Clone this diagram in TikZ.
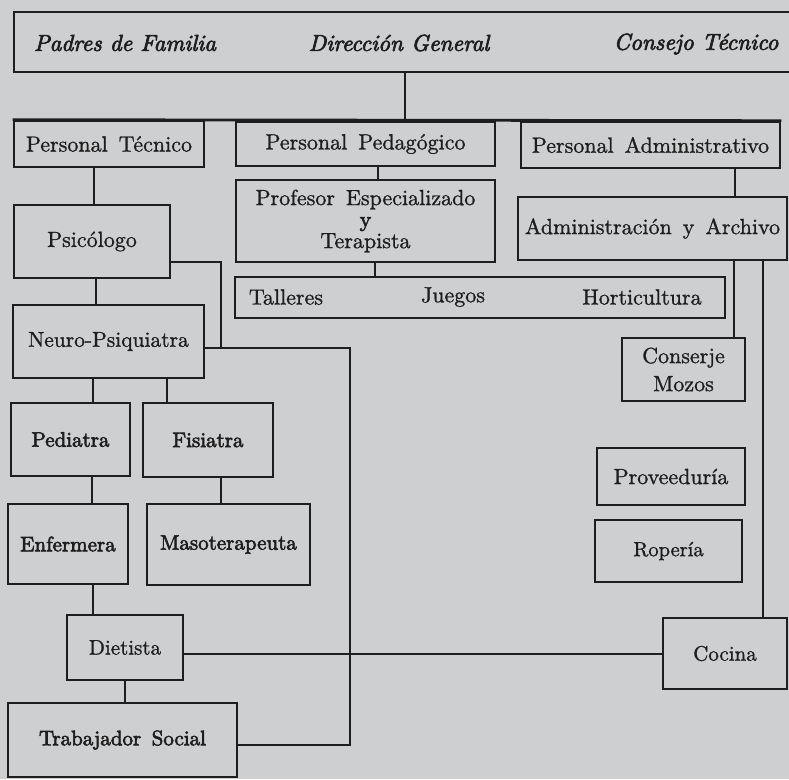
\documentclass[tikz,border=0pt]{standalone}
\usepackage{fontspec}
\newfontfamily\medfont{lmroman10-regular.otf}[FakeBold=1.1]
\newfontfamily\heavyfont{lmroman10-regular.otf}[FakeBold=2.8]
\newfontfamily\topitfont{lmroman10-italic.otf}[FakeBold=3]
\definecolor{paper}{RGB}{206,207,209}
\definecolor{ink}{RGB}{30,30,30}
\begin{document}
\begin{tikzpicture}[x=1pt,y=-1pt,
  box/.style={draw=ink, line width=2.6pt, inner sep=0pt, align=center, text=ink,
    font=\medfont\fontsize{22}{26}\selectfont},
  boldbox/.style={box, font=\heavyfont\fontsize{21}{24}\selectfont},
  toptxt/.style={text=ink, inner sep=0pt, font=\topitfont\fontsize{23}{25}\selectfont},
  plain/.style={text=ink, inner sep=0pt, font=\medfont\fontsize{22}{26}\selectfont},
  wire/.style={draw=ink, line width=2.8pt},
  thinwire/.style={draw=ink, line width=1.8pt}]
\fill[paper] (0,0) rectangle (789,779);
\useasboundingbox (0,0) rectangle (789,779);

% top box
\node[box, minimum width=780pt, minimum height=60pt] (top) at (404,42) {};
\node[toptxt] (t1) at (125,43) {Padres de Familia};
\node[toptxt] (t2) at (399,43) {Dirección General};
\node[toptxt] (t3) at (696,44) {Consejo Técnico};

% second row
\node[box, minimum width=190pt, minimum height=46pt] (tec) at (109,144) {Personal\, Técnico};
\node[box, minimum width=259pt, minimum height=44pt] (ped) at (365.5,144) {Personal\, Pedagógico};
\node[box, minimum width=259pt, minimum height=46pt] (adm) at (650.5,145) {Personal\, Administrativo};
\coordinate (bus) at (405,122);
\draw[wire] (bus |- top.south) -- (bus);
\draw[wire] (tec.north west) -- (adm.north east);

% pedagogic branch
\node[box, minimum width=259pt, minimum height=82pt, font=\medfont\fontsize{22}{21.5}\selectfont] (prof) at (365.5,221)
  {Profesor\, Especializado\\ {\heavyfont y}\\ Terapista};
\node[box, minimum width=490pt, minimum height=41pt] (tal) at (480,297.5) {};
\node[plain] (ta1) at (286,297) {Talleres};
\node[plain] (ta2) at (453,297) {Juegos};
\node[plain] (ta3) at (642,297) {Horticultura};

% administrative branch
\node[box, minimum width=269pt, minimum height=63pt] (arch) at (652.5,228.5) {Administración\, y\, Archivo};
\node[box, minimum width=123pt, minimum height=63pt, font=\medfont\fontsize{22}{28}\selectfont] (con) at (683.5,369.5) {Conserje\\ Mozos};
\node[box, minimum width=148pt, minimum height=57pt] (prov) at (671,476.5) {Proveeduría};
\node[box, minimum width=147pt, minimum height=62pt, font=\medfont\fontsize{20.5}{24}\selectfont] (rop) at (668.5,551) {Ropería};
\node[box, minimum width=124pt, minimum height=71pt, font=\medfont\fontsize{21}{24}\selectfont] (coc) at (725,653.5) {Cocina};

% technical branch
\node[box, minimum width=156pt, minimum height=73pt] (psi) at (92,241.5) {Psicólogo};
\node[box, minimum width=191pt, minimum height=73pt, font=\medfont\fontsize{21.5}{24}\selectfont] (neu) at (108.5,341.5) {Neuro-Psiquiatra};
\node[boldbox, minimum width=119pt, minimum height=73pt] (pedia) at (70.5,439.5) {Pediatra};
\node[boldbox, minimum width=130pt, minimum height=74pt] (fis) at (208,440) {Fisiatra};
\node[boldbox, minimum width=120pt, minimum height=80pt] (enf) at (68,544) {Enfermera};
\node[boldbox, minimum width=163pt, minimum height=81pt] (maso) at (228.5,544.5) {Masoterapeuta};
\node[box, minimum width=116pt, minimum height=65pt, font=\medfont\fontsize{21}{24}\selectfont] (die) at (125,647.5) {Dietista};
\node[boldbox, minimum width=229pt, minimum height=74pt] (tra) at (122.5,740) {Trabajador\, Social};

% connectors
\draw[wire] (94,0 |- tec.south) -- (94,0 |- psi.north);
\draw[wire] (378,0 |- ped.south) -- (378,0 |- prof.north);
\draw[wire] (735,0 |- adm.south) -- (735,0 |- arch.north);
\draw[wire] (375,0 |- prof.south) -- (375,0 |- tal.north);
\draw[wire] (96,0 |- psi.south) -- (96,0 |- neu.north);
\coordinate (j1) at (221,348);
\draw[wire] (0,262 -| psi.east) -- (221,262) -- (j1);
\draw[wire] (0,348 -| neu.east) -- (350,348) -- (350,745) -- (0,745 -| tra.east);
\draw[wire] (93,0 |- neu.south) -- (93,0 |- pedia.north);
\draw[wire] (167,0 |- neu.south) -- (167,0 |- fis.north);
\draw[wire] (92,0 |- pedia.south) -- (92,0 |- enf.north);
\draw[wire] (221,0 |- fis.south) -- (221,0 |- maso.north);
\draw[wire] (93,0 |- enf.south) -- (93,0 |- die.north);
\draw[wire] (125,0 |- die.south) -- (125,0 |- tra.north);
\draw[thinwire] (0,654 -| die.east) -- (0,654 -| coc.west);
\draw[wire] (734,0 |- arch.south) -- (734,0 |- con.north);
\draw[wire] (763,0 |- arch.south) -- (763,0 |- coc.north);
\end{tikzpicture}
\end{document}
